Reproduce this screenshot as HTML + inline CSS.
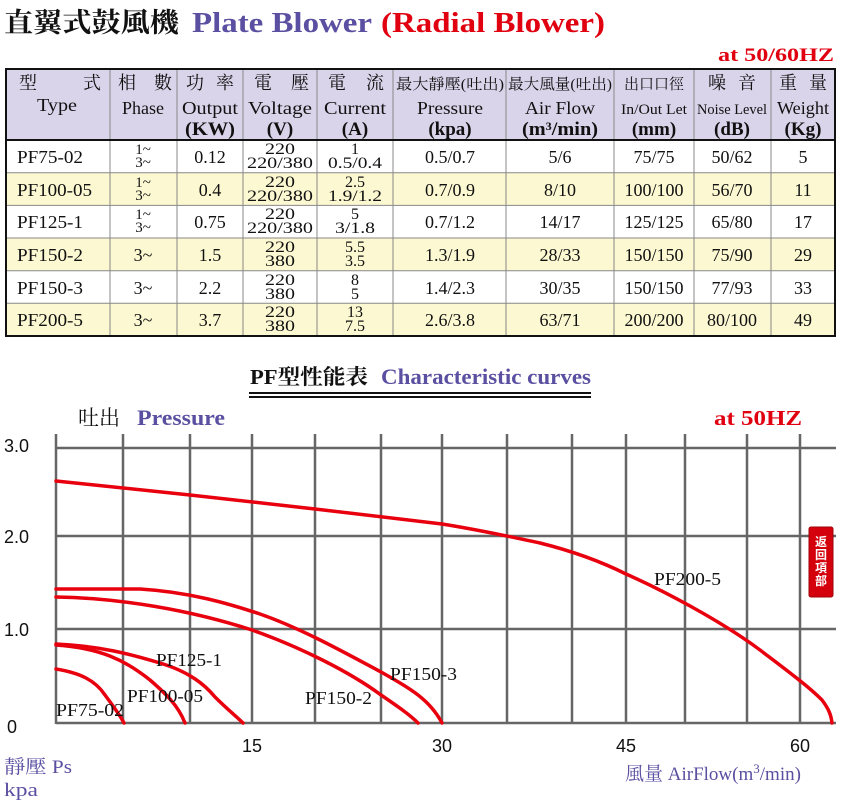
<!DOCTYPE html>
<html><head><meta charset="utf-8"><style>
html,body{margin:0;padding:0;background:#fff;width:860px;height:801px;overflow:hidden}
svg{display:block}
.s{font-family:"Liberation Serif","Noto Serif CJK SC",serif}
.a{font-family:"Liberation Sans",sans-serif}
</style></head><body>
<svg width="860" height="801" viewBox="0 0 860 801" xmlns="http://www.w3.org/2000/svg">
<text x="4" y="32" class="s" font-size="27" font-weight="bold" fill="#111" textLength="175" lengthAdjust="spacingAndGlyphs">直翼式鼓風機</text>
<text x="192" y="32" class="s" font-size="29" font-weight="bold" fill="#5a4fa0" textLength="180" lengthAdjust="spacingAndGlyphs">Plate Blower</text>
<text x="381" y="32" class="s" font-size="29" font-weight="bold" fill="#e00010" textLength="224" lengthAdjust="spacingAndGlyphs">(Radial Blower)</text>
<text x="834" y="61" class="s" font-size="19" font-weight="bold" fill="#e00010" text-anchor="end" textLength="116" lengthAdjust="spacingAndGlyphs">at  50/60HZ</text>

<rect x="6" y="69" width="829" height="71" fill="#d9d4ea"/>
<rect x="6" y="172.7" width="829" height="32.7" fill="#fcf8d2"/>
<rect x="6" y="238" width="829" height="32.7" fill="#fcf8d2"/>
<rect x="6" y="303.3" width="829" height="32.7" fill="#fcf8d2"/>
<g stroke="#888" stroke-width="1">
<line x1="6" y1="172.7" x2="835" y2="172.7"/><line x1="6" y1="205.4" x2="835" y2="205.4"/>
<line x1="6" y1="238" x2="835" y2="238"/><line x1="6" y1="270.7" x2="835" y2="270.7"/>
<line x1="6" y1="303.3" x2="835" y2="303.3"/>
<line x1="110" y1="69" x2="110" y2="336"/><line x1="177" y1="69" x2="177" y2="336"/>
<line x1="243" y1="69" x2="243" y2="336"/><line x1="317" y1="69" x2="317" y2="336"/>
<line x1="393" y1="69" x2="393" y2="336"/><line x1="506" y1="69" x2="506" y2="336"/>
<line x1="614" y1="69" x2="614" y2="336"/><line x1="694" y1="69" x2="694" y2="336"/>
<line x1="771" y1="69" x2="771" y2="336"/>
</g>
<line x1="6" y1="140" x2="835" y2="140" stroke="#111" stroke-width="2"/>
<rect x="6" y="69" width="829" height="267" fill="none" stroke="#111" stroke-width="2"/>

<g class="s" font-size="18" fill="#111" text-anchor="middle">
<text x="28" y="89">型</text><text x="92" y="89">式</text><text x="57" y="111" textLength="40" lengthAdjust="spacingAndGlyphs">Type</text>
<text x="127" y="89">相</text><text x="163" y="89">數</text><text x="143" y="114" textLength="42" lengthAdjust="spacingAndGlyphs">Phase</text>
<text x="210" y="89" textLength="48">功 率</text><text x="210" y="114" textLength="56" lengthAdjust="spacingAndGlyphs">Output</text><text x="210" y="135" font-weight="bold" font-size="19" textLength="50" lengthAdjust="spacingAndGlyphs">(KW)</text>
<text x="263" y="89">電</text><text x="300" y="89">壓</text><text x="280" y="114" textLength="64" lengthAdjust="spacingAndGlyphs">Voltage</text><text x="280" y="135" font-weight="bold" font-size="19">(V)</text>
<text x="337" y="89">電</text><text x="375" y="89">流</text><text x="355" y="114" textLength="62" lengthAdjust="spacingAndGlyphs">Current</text><text x="355" y="135" font-weight="bold" font-size="19">(A)</text>
<text x="450" y="89" font-size="15" textLength="108" lengthAdjust="spacingAndGlyphs">最大靜壓(吐出)</text><text x="450" y="114" textLength="66" lengthAdjust="spacingAndGlyphs">Pressure</text><text x="450" y="135" font-weight="bold" font-size="19">(kpa)</text>
<text x="560" y="89" font-size="15" textLength="104" lengthAdjust="spacingAndGlyphs">最大風量(吐出)</text><text x="560" y="114" textLength="70" lengthAdjust="spacingAndGlyphs">Air Flow</text><text x="560" y="135" font-weight="bold" font-size="19" textLength="76" lengthAdjust="spacingAndGlyphs">(m³/min)</text>
<text x="654" y="89" font-size="15" textLength="60" lengthAdjust="spacingAndGlyphs">出口口徑</text><text x="654" y="114" font-size="15" textLength="66" lengthAdjust="spacingAndGlyphs">In/Out Let</text><text x="654" y="135" font-weight="bold" font-size="19">(mm)</text>
<text x="732" y="89" textLength="48">噪 音</text><text x="732" y="114" font-size="15" textLength="70" lengthAdjust="spacingAndGlyphs">Noise  Level</text><text x="732" y="135" font-weight="bold" font-size="19">(dB)</text>
<text x="803" y="89" textLength="48">重 量</text><text x="803" y="114" textLength="52" lengthAdjust="spacingAndGlyphs">Weight</text><text x="803" y="135" font-weight="bold" font-size="19">(Kg)</text>
</g>

<g class="s" font-size="18" fill="#111" text-anchor="middle">
<g text-anchor="start"><text x="17" y="163" textLength="66" lengthAdjust="spacingAndGlyphs">PF75-02</text><text x="17" y="196" textLength="75" lengthAdjust="spacingAndGlyphs">PF100-05</text><text x="17" y="228" textLength="66" lengthAdjust="spacingAndGlyphs">PF125-1</text><text x="17" y="261" textLength="66" lengthAdjust="spacingAndGlyphs">PF150-2</text><text x="17" y="294" textLength="66" lengthAdjust="spacingAndGlyphs">PF150-3</text><text x="17" y="326" textLength="66" lengthAdjust="spacingAndGlyphs">PF200-5</text></g>
<g font-size="15"><text x="143" y="154">1~</text><text x="143" y="167">3~</text><text x="143" y="187">1~</text><text x="143" y="200">3~</text><text x="143" y="219">1~</text><text x="143" y="232">3~</text></g>
<text x="143" y="261">3~</text><text x="143" y="294">3~</text><text x="143" y="326">3~</text>
<text x="210" y="163">0.12</text><text x="210" y="196">0.4</text><text x="210" y="228">0.75</text><text x="210" y="261">1.5</text><text x="210" y="294">2.2</text><text x="210" y="326">3.7</text>
<g font-size="16">
<text x="280" y="154" textLength="30" lengthAdjust="spacingAndGlyphs">220</text><text x="280" y="168" textLength="66" lengthAdjust="spacingAndGlyphs">220/380</text>
<text x="280" y="187" textLength="30" lengthAdjust="spacingAndGlyphs">220</text><text x="280" y="201" textLength="66" lengthAdjust="spacingAndGlyphs">220/380</text>
<text x="280" y="219" textLength="30" lengthAdjust="spacingAndGlyphs">220</text><text x="280" y="233" textLength="66" lengthAdjust="spacingAndGlyphs">220/380</text>
<text x="280" y="252" textLength="30" lengthAdjust="spacingAndGlyphs">220</text><text x="280" y="266" textLength="30" lengthAdjust="spacingAndGlyphs">380</text>
<text x="280" y="285" textLength="30" lengthAdjust="spacingAndGlyphs">220</text><text x="280" y="299" textLength="30" lengthAdjust="spacingAndGlyphs">380</text>
<text x="280" y="317" textLength="30" lengthAdjust="spacingAndGlyphs">220</text><text x="280" y="331" textLength="30" lengthAdjust="spacingAndGlyphs">380</text>
<text x="355" y="154">1</text><text x="355" y="168" textLength="54" lengthAdjust="spacingAndGlyphs">0.5/0.4</text>
<text x="355" y="187">2.5</text><text x="355" y="201" textLength="54" lengthAdjust="spacingAndGlyphs">1.9/1.2</text>
<text x="355" y="219">5</text><text x="355" y="233" textLength="40" lengthAdjust="spacingAndGlyphs">3/1.8</text>
<text x="355" y="252">5.5</text><text x="355" y="266">3.5</text>
<text x="355" y="285">8</text><text x="355" y="299">5</text>
<text x="355" y="317">13</text><text x="355" y="331">7.5</text>
</g>
<text x="450" y="163">0.5/0.7</text><text x="450" y="196">0.7/0.9</text><text x="450" y="228">0.7/1.2</text><text x="450" y="261">1.3/1.9</text><text x="450" y="294">1.4/2.3</text><text x="450" y="326">2.6/3.8</text>
<text x="560" y="163">5/6</text><text x="560" y="196">8/10</text><text x="560" y="228">14/17</text><text x="560" y="261">28/33</text><text x="560" y="294">30/35</text><text x="560" y="326">63/71</text>
<text x="654" y="163">75/75</text><text x="654" y="196">100/100</text><text x="654" y="228">125/125</text><text x="654" y="261">150/150</text><text x="654" y="294">150/150</text><text x="654" y="326">200/200</text>
<text x="732" y="163">50/62</text><text x="732" y="196">56/70</text><text x="732" y="228">65/80</text><text x="732" y="261">75/90</text><text x="732" y="294">77/93</text><text x="732" y="326">80/100</text>
<text x="803" y="163">5</text><text x="803" y="196">11</text><text x="803" y="228">17</text><text x="803" y="261">29</text><text x="803" y="294">33</text><text x="803" y="326">49</text>
</g>

<text x="250" y="384" class="s" font-size="21" font-weight="bold" fill="#111" textLength="118" lengthAdjust="spacingAndGlyphs">PF型性能表</text>
<text x="381" y="384" class="s" font-size="22" font-weight="bold" fill="#5a4fa0" textLength="210" lengthAdjust="spacingAndGlyphs">Characteristic curves</text>
<line x1="249" y1="393" x2="591" y2="393" stroke="#111" stroke-width="2"/>
<line x1="249" y1="397" x2="591" y2="397" stroke="#111" stroke-width="2"/>
<text x="78" y="425" class="s" font-size="21" fill="#111">吐出</text>
<text x="137" y="425" class="s" font-size="22" font-weight="bold" fill="#5a4fa0" textLength="88" lengthAdjust="spacingAndGlyphs">Pressure</text>
<text x="802" y="425" class="s" font-size="21" font-weight="bold" fill="#e00010" text-anchor="end" textLength="88" lengthAdjust="spacingAndGlyphs">at  50HZ</text>

<g stroke="#666" stroke-width="2.5">
<line x1="56" y1="448" x2="836" y2="448"/><line x1="56" y1="536" x2="836" y2="536"/>
<line x1="56" y1="629" x2="836" y2="629"/><line x1="56" y1="723" x2="836" y2="723"/>
<line x1="56" y1="434" x2="56" y2="724"/><line x1="123" y1="434" x2="123" y2="724"/>
<line x1="190" y1="434" x2="190" y2="724"/><line x1="252" y1="434" x2="252" y2="724"/>
<line x1="315" y1="434" x2="315" y2="724"/><line x1="381" y1="434" x2="381" y2="724"/>
<line x1="442" y1="434" x2="442" y2="724"/><line x1="507" y1="434" x2="507" y2="724"/>
<line x1="572" y1="434" x2="572" y2="724"/><line x1="626" y1="434" x2="626" y2="724"/>
<line x1="685" y1="434" x2="685" y2="724"/><line x1="747" y1="434" x2="747" y2="724"/>
<line x1="800" y1="434" x2="800" y2="724"/>
</g>

<g class="a" font-size="18" fill="#111">
<text x="4" y="452">3.0</text><text x="4" y="543">2.0</text><text x="4" y="636">1.0</text><text x="7" y="733">0</text>
<g text-anchor="middle"><text x="252" y="752">15</text><text x="442" y="752">30</text><text x="626" y="752">45</text><text x="800" y="752">60</text></g>
</g>

<g fill="none" stroke="#e8000e" stroke-width="3.5" stroke-linecap="round">
<path d="M56,481 L190,495 L315,509 L442,524 C480,530 507,536 540,543 C572,551 600,561 626,574 C660,589 720,620 760,650 C800,680 812,690 822,700 C828,708 831,714 832,723"/>
<path d="M56,589 L140,589 C190,592 230,604 260,614 C300,628 340,650 381,672 C410,688 430,700 442,723"/>
<path d="M56,597 C120,598 190,610 252,630 C300,647 350,672 381,695 C400,708 410,715 418,723"/>
<path d="M56,644 C100,646 130,654 160,663 C190,672 205,685 215,697 C228,710 236,716 243,723"/>
<path d="M56,645 C100,648 125,660 150,680 C165,693 178,705 185,723"/>
<path d="M56,669 C80,673 95,680 105,695 C113,706 120,715 124,723"/>
</g>

<g class="s" font-size="18" fill="#111">
<text x="56" y="716" textLength="68" lengthAdjust="spacingAndGlyphs">PF75-02</text>
<text x="127" y="702" textLength="76" lengthAdjust="spacingAndGlyphs">PF100-05</text>
<text x="156" y="666" textLength="66" lengthAdjust="spacingAndGlyphs">PF125-1</text>
<text x="305" y="704" textLength="67" lengthAdjust="spacingAndGlyphs">PF150-2</text>
<text x="390" y="680" textLength="67" lengthAdjust="spacingAndGlyphs">PF150-3</text>
<text x="654" y="585" textLength="67" lengthAdjust="spacingAndGlyphs">PF200-5</text>
</g>

<g class="s" font-size="19" fill="#5a4fa0">
<text x="4" y="773" textLength="68" lengthAdjust="spacingAndGlyphs">靜壓 Ps</text>
<text x="4" y="796" textLength="34" lengthAdjust="spacingAndGlyphs">kpa</text>
<text x="625" y="780">風量  AirFlow(m<tspan font-size="13" dy="-7">3</tspan><tspan dy="7">/min)</tspan></text>
</g>

<rect x="809" y="527" width="24" height="70" rx="2" fill="#d4000c" stroke="#a00008"/>
<g font-family="Noto Sans CJK SC,sans-serif" font-size="12" font-weight="bold" fill="#fff" text-anchor="middle">
<text x="821" y="546">返</text><text x="821" y="559">回</text><text x="821" y="572">項</text><text x="821" y="585">部</text>
</g>
</svg>
</body></html>
